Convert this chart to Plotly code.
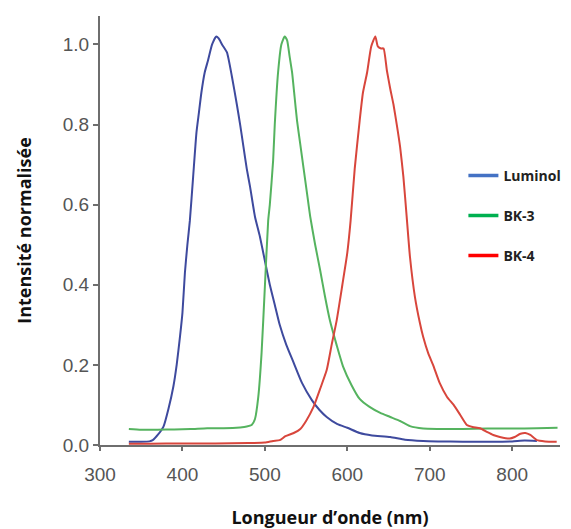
import plotly.graph_objects as go

# ---- data ----
lum_x = [335, 350, 360, 364, 370, 377, 383, 389, 393, 397, 400, 403, 406, 409, 413, 417, 420, 423, 427, 431,
         436, 441, 444, 448, 454, 460, 466, 470, 474, 478, 482, 488, 494, 500, 506, 512, 518, 526, 534, 545,
         557, 566, 575, 588, 600, 615, 630, 652, 670, 692, 710, 740, 775, 800, 815, 830]
lum_y = [0.008, 0.008, 0.009, 0.012, 0.025, 0.046, 0.09, 0.146, 0.2, 0.27, 0.33, 0.43, 0.5, 0.56, 0.67, 0.78, 0.83, 0.88, 0.93, 0.96,
         1.0, 1.02, 1.015, 1.0, 0.98, 0.92, 0.85, 0.8, 0.745, 0.69, 0.645, 0.57, 0.52, 0.46, 0.4, 0.35, 0.3, 0.25, 0.21, 0.155,
         0.112, 0.088, 0.07, 0.052, 0.043, 0.03, 0.024, 0.02, 0.013, 0.01, 0.009, 0.008, 0.008, 0.009, 0.011, 0.01]

bk3_x = [335, 350, 370, 390, 410, 430, 450, 470, 478, 484, 488, 492, 496, 500, 504, 506, 510, 512, 516, 520,
         524, 527, 530, 533, 536, 539, 543, 547, 551, 555, 561, 567, 573, 579, 587, 595, 605, 615, 627, 640,
         652, 664, 676, 692, 710, 740, 770, 800, 830, 855]
bk3_y = [0.04, 0.038, 0.038, 0.039, 0.04, 0.042, 0.042, 0.044, 0.046, 0.05, 0.065, 0.12, 0.23, 0.395, 0.56, 0.6, 0.71, 0.8, 0.93, 1.0,
         1.02, 1.01, 0.97, 0.93, 0.87, 0.81, 0.75, 0.69, 0.63, 0.57, 0.5, 0.437, 0.37, 0.31, 0.25, 0.195, 0.15, 0.115, 0.095, 0.08,
         0.07, 0.06, 0.047, 0.041, 0.04, 0.04, 0.041, 0.041, 0.042, 0.043]

bk4_x = [335, 360, 400, 440, 480, 500, 510, 518, 525, 535, 543, 550, 559, 567, 575, 581, 587, 594, 600, 604,
         609, 615, 619, 624, 629, 634, 637, 641, 644, 648, 652, 656, 660, 664, 668, 672, 676, 682, 688, 692,
         698, 704, 712, 721, 729, 737, 745, 752, 761, 770, 777, 785, 797, 803, 810, 816, 822, 830, 840, 854]
bk4_y = [0.003, 0.003, 0.004, 0.004, 0.005, 0.006, 0.01, 0.012, 0.022, 0.03, 0.04, 0.06, 0.095, 0.14, 0.187, 0.25, 0.31, 0.4, 0.48, 0.56,
         0.69, 0.81, 0.88, 0.93, 0.995, 1.02, 0.995, 0.99, 0.99, 0.935, 0.89, 0.85, 0.8, 0.745, 0.67, 0.57, 0.47, 0.37, 0.305, 0.27,
         0.23, 0.2, 0.155, 0.12, 0.1, 0.075, 0.05, 0.045, 0.042, 0.032, 0.025, 0.02, 0.016, 0.02, 0.028, 0.03, 0.025, 0.012, 0.009, 0.008]

series_names = ["Luminol", "BK-3", "BK-4"]
line_colors = ["#3e4a9e", "#55b35f", "#d8463c"]
legend_colors = ["#4472c4", "#00b050", "#ff0000"]
x_ticks = [300, 400, 500, 600, 700, 800]
y_ticks = [0.0, 0.2, 0.4, 0.6, 0.8, 1.0]
y_tick_text = ["0.0", "0.2", "0.4", "0.6", "0.8", "1.0"]

fig = go.Figure()
for xs, ys, c in zip([lum_x, bk3_x, bk4_x], [lum_y, bk3_y, bk4_y], line_colors):
    fig.add_trace(go.Scatter(x=xs, y=ys, mode="lines",
                             line=dict(color=c, width=2, shape="spline", smoothing=0.5),
                             showlegend=False, hoverinfo="skip"))

legend_keys = ["legend", "legend2", "legend3"]
for name, c, lk in zip(series_names, legend_colors, legend_keys):
    fig.add_trace(go.Scatter(x=[None], y=[None], mode="lines", name=name,
                             line=dict(color=c, width=3.5), legend=lk))

leg_common = dict(x=0.79, xanchor="left", yanchor="middle", bgcolor="rgba(0,0,0,0)",
                  font=dict(family="Open Sans", size=14, color="#222", weight="bold"))
fig.update_layout(
    width=563, height=521,
    margin=dict(l=92, r=11, t=8, b=84, autoexpand=False),
    plot_bgcolor="white", paper_bgcolor="white",
    legend=dict(y=0.627, **leg_common),
    legend2=dict(y=0.534, **leg_common),
    legend3=dict(y=0.441, **leg_common),
    xaxis=dict(range=[300, 858], tickvals=x_ticks, showgrid=False, zeroline=False, automargin=False,
               showline=True, linecolor="#6e6e6e", linewidth=2,
               ticks="outside", ticklen=4, tickcolor="#6e6e6e", tickwidth=2,
               ticklabelstandoff=7,
               tickfont=dict(family="Liberation Sans", size=19, color="#555"),
               title=dict(text="Longueur d’onde (nm)", standoff=28,
                          font=dict(family="Open Sans", size=18, color="#111", weight="bold"))),
    yaxis=dict(range=[0, 1.071], tickvals=y_ticks, ticktext=y_tick_text, showgrid=False, zeroline=False,
               automargin=False,
               showline=True, linecolor="#6e6e6e", linewidth=2,
               ticks="outside", ticklen=5, tickcolor="#6e6e6e", tickwidth=2,
               tickfont=dict(family="Liberation Sans", size=19, color="#555"),
               title=dict(text="Intensité normalisée", standoff=26,
                          font=dict(family="Open Sans", size=18, color="#111", weight="bold"))),
)

fig.write_html("out.html")
